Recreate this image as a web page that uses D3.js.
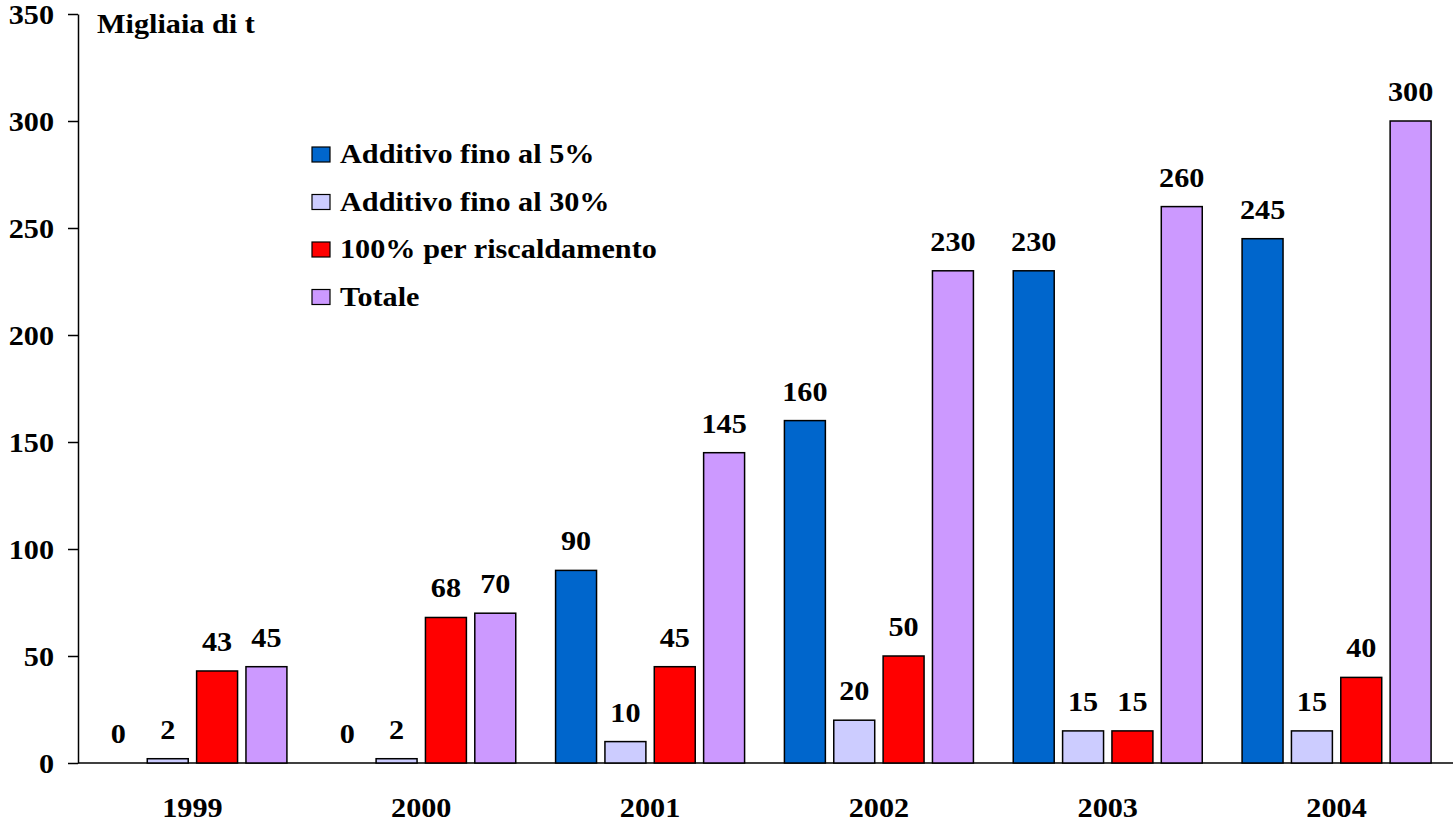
<!DOCTYPE html>
<html lang="en">
<head>
  <meta charset="UTF-8">
  <title>Migliaia di t</title>
  <script src="https://d3js.org/d3.v7.min.js"></script>
  <style>
    body { margin: 0; background: white; }
    text { font-family: "Liberation Serif", "Times New Roman", serif; font-weight: bold; font-size: 27px; fill: #000; }
    .bar { stroke: #000; stroke-width: 1.5px; }
  </style>
</head>
<body>
<svg id="chart"></svg>
<script>
// data
const years = ["1999", "2000", "2001", "2002", "2003", "2004"];
const seriesNames = ["Additivo fino al 5%", "Additivo fino al 30%", "100% per riscaldamento", "Totale"];
const seriesColours = ["#0066cc", "#ccccff", "#ff0000", "#cc99ff"];
const additivo5 = [0, 0, 90, 160, 230, 245];
const additivo30 = [2, 2, 10, 20, 15, 15];
const riscaldamento = [43, 68, 45, 50, 15, 40];
const totale = [45, 70, 145, 230, 260, 300];
const yTicks = [0, 50, 100, 150, 200, 250, 300, 350];
const unitLabel = "Migliaia di t";

const allSeries = [additivo5, additivo30, riscaldamento, totale];

// layout
const W = 1453, H = 824;
const mLeft = 78, mRight = 1451, mTop = 14, mBottom = 763;
const sx = 1.12; // text in the original is a bit stretched sideways

const svg = d3.select("#chart").attr("width", W).attr("height", H);

const y = d3.scaleLinear().domain([0, 350]).range([mBottom, mTop]);
const x0 = d3.scaleBand().domain(years).range([mLeft, mRight]).padding(0);
const groupW = 189;
const x1 = d3.scaleBand().domain(d3.range(4)).range([0, groupW]).paddingInner(0.17);
const off = (x0.bandwidth() - groupW) / 2;

function label(g, txt, px, py, anchor) {
  return g.append("text")
    .attr("transform", `translate(${px},${py}) scale(${sx},1)`)
    .attr("text-anchor", anchor || "middle")
    .text(txt);
}

// y axis
const yAxis = svg.append("g")
  .attr("transform", `translate(${mLeft},0)`)
  .call(d3.axisLeft(y).tickValues(yTicks).tickSize(10).tickSizeOuter(0).tickPadding(11.4));
yAxis.attr("font-size", null).attr("font-family", null);
yAxis.select(".domain").attr("stroke", "#000").attr("stroke-width", 1.5);
yAxis.selectAll(".tick line").attr("stroke", "#000").attr("stroke-width", 1.5);
yAxis.selectAll(".tick text")
  .attr("fill", null)
  .attr("transform", `scale(${sx},1)`)
  .attr("dy", "0.35em");

// x axis line
svg.append("line")
  .attr("x1", mLeft).attr("x2", W)
  .attr("y1", y(0)).attr("y2", y(0))
  .attr("stroke", "#000").attr("stroke-width", 1.5);

// bars
const groups = svg.selectAll(".grp")
  .data(years)
  .join("g")
  .attr("class", "grp")
  .attr("transform", d => `translate(${x0(d) + off},0)`);

groups.each(function(yr, i) {
  const g = d3.select(this);
  allSeries.forEach((s, k) => {
    const v = s[i];
    if (v > 0) {
      g.append("rect")
        .attr("class", "bar")
        .attr("x", x1(k))
        .attr("width", x1.bandwidth())
        .attr("y", y(v))
        .attr("height", y(0) - y(v))
        .attr("fill", seriesColours[k]);
    }
    label(g, v, x1(k) + x1.bandwidth() / 2, y(v) - 20);
  });
  label(g, yr, groupW / 2, 817);
});

// unit label
label(svg, unitLabel, 97, 33, "start");

// legend
const legend = svg.append("g");
seriesNames.forEach((n, k) => {
  const by = 163 + k * 47.5;
  legend.append("rect")
    .attr("x", 312).attr("y", by - 16)
    .attr("width", 18).attr("height", 15)
    .attr("fill", seriesColours[k])
    .attr("stroke", "#000").attr("stroke-width", 1.2);
  label(legend, n, 340, by, "start");
});
</script>
</body>
</html>
